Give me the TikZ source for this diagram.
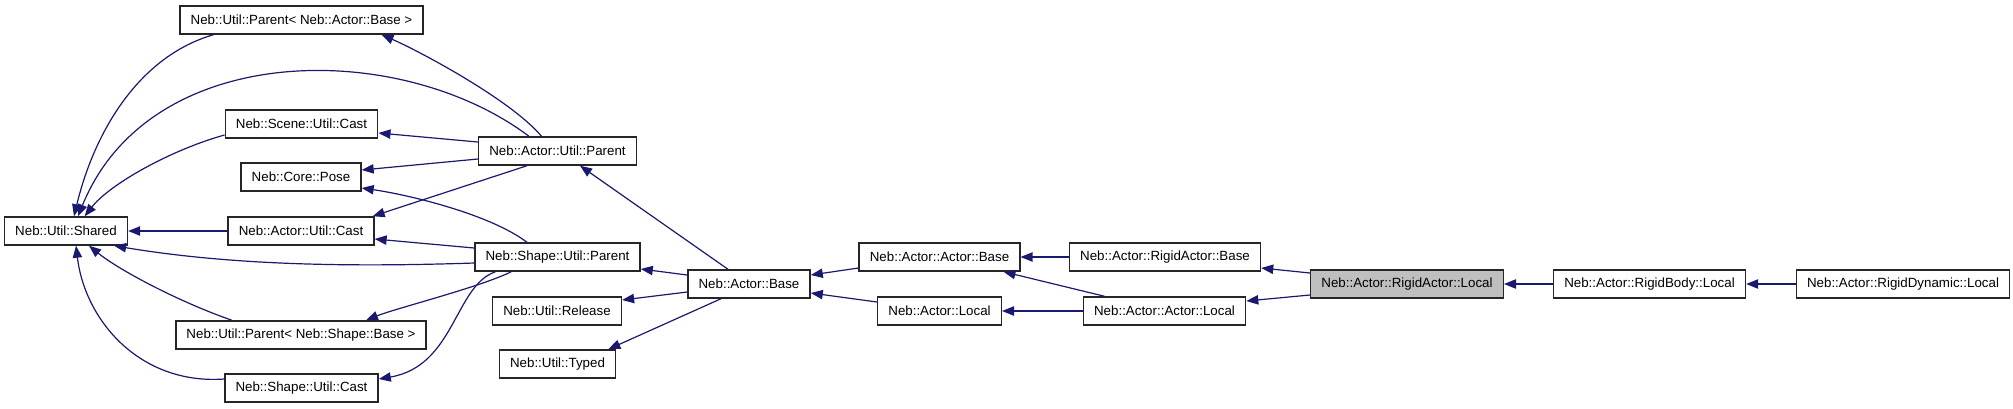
\documentclass[tikz,border=0pt]{standalone}
\usepackage{fontspec}
\setmainfont{Liberation Sans}
\usetikzlibrary{arrows.meta}
\definecolor{edgeblue}{HTML}{191970}
\definecolor{hilite}{HTML}{BFBFBF}

\begin{document}
\begin{tikzpicture}[x=0.75pt, y=-0.75pt,
    cls/.style={draw=black!85, line width=1.1pt, fill=white, minimum height=21pt, inner xsep=8pt, inner ysep=0pt, font=\fontsize{10}{12}\selectfont},
    edge/.style={edgeblue, line width=0.9pt, -{Triangle[length=9pt,width=7pt]}}]
    \useasboundingbox[fill=white] (0,0) rectangle (2013,408);

    % Draw the classes, column by column
    \node[cls] (shared) at (66,231) {Neb::Util::Shared};

    \node[cls] (pab) at (301.5,20) {Neb::Util::Parent< Neb::Actor::Base >};
    \node[cls] (scast) at (301.5,124) {Neb::Scene::Util::Cast};
    \node[cls] (pose) at (301,177) {Neb::Core::Pose};
    \node[cls] (acast) at (301,231) {Neb::Actor::Util::Cast};
    \node[cls] (psb) at (301,335) {Neb::Util::Parent< Neb::Shape::Base >};
    \node[cls] (shcast) at (301.5,388) {Neb::Shape::Util::Cast};

    \node[cls] (aup) at (557.5,151) {Neb::Actor::Util::Parent};
    \node[cls] (sup) at (557.5,257) {Neb::Shape::Util::Parent};
    \node[cls] (release) at (557,311) {Neb::Util::Release};
    \node[cls] (typed) at (557.5,364) {Neb::Util::Typed};

    \node[cls] (abase) at (749,284) {Neb::Actor::Base};
    \node[cls] (aabase) at (939.5,257) {Neb::Actor::Actor::Base};
    \node[cls] (alocal) at (939.5,311) {Neb::Actor::Local};
    \node[cls] (rabase) at (1165,257) {Neb::Actor::RigidActor::Base};
    \node[cls] (aalocal) at (1164.5,311) {Neb::Actor::Actor::Local};

    \node[cls, fill=hilite] (ralocal) at (1407,284) {Neb::Actor::RigidActor::Local};
    \node[cls] (rblocal) at (1649.5,284) {Neb::Actor::RigidBody::Local};
    \node[cls] (rdlocal) at (1903,284) {Neb::Actor::RigidDynamic::Local};

    % Straight inheritance edges
    \foreach \a/\b in {rdlocal/rblocal, rblocal/ralocal, rabase/aabase, aalocal/alocal, acast/shared} \draw[edge] (\a) -- (\b);

    % Right part
    \draw[edge] ([yshift=8.25pt]ralocal.west) -- ([yshift=-8.25pt]rabase.east);
    \draw[edge] ([yshift=-8.25pt]ralocal.west) -- ([yshift=7.5pt]aalocal.east);
    \draw[edge] ([xshift=-45pt]aalocal.north) -- ([xshift=48pt]aabase.south);
    \draw[edge] ([yshift=-8.25pt]aabase.west) -- ([yshift=6.75pt]abase.east);
    \draw[edge] ([yshift=6.75pt]alocal.west) -- ([yshift=-6.75pt]abase.east);

    % Neb::Actor::Base to its bases
    \draw[edge] ([xshift=-15.75pt]abase.north) -- ([xshift=16.9pt]aup.south);
    \draw[edge] ([yshift=6.75pt]abase.west) -- ([yshift=-9pt]sup.east);
    \draw[edge] ([yshift=-6pt]abase.west) -- ([yshift=8.25pt]release.east);
    \draw[edge] ([xshift=-21pt]abase.south) -- ([xshift=-6pt]typed.north east);

    % Neb::Actor::Util::Parent to its bases
    \draw[edge] ([xshift=-12pt]aup.north) .. controls +(-31,-37) and +(35,15) .. ([xshift=60pt]pab.south);
    \draw[edge] ([xshift=-21.4pt]aup.north) .. controls +(-129,-97) and +(72,-177) .. ([xshift=9pt]shared.north);
    \draw[edge] ([yshift=6.75pt]aup.west) -- ([yshift=-6.75pt]scast.east);
    \draw[edge] ([yshift=-6pt]aup.west) -- ([yshift=5.25pt]pose.east);
    \draw[edge] ([xshift=-22.9pt]aup.south) -- ([xshift=-1.5pt]acast.north east);

    % Neb::Shape::Util::Parent to its bases
    \draw[edge] ([xshift=-22.9pt]sup.north) .. controls +(-37,-28) and +(48,7) .. ([yshift=-8.25pt]pose.east);
    \draw[edge] ([yshift=6.75pt]sup.west) -- ([yshift=-6pt]acast.east);
    \draw[edge] ([yshift=-4.5pt]sup.west) .. controls +(-120,4) and +(120,20) .. ([xshift=-10.5pt]shared.south east);
    \draw[edge] ([xshift=-34.7pt]sup.south) .. controls +(-30,15) and +(30,-12) .. ([xshift=48.75pt]psb.north);
    \draw[edge] ([xshift=-46.5pt]sup.south) .. controls +(-41,14) and +(76,-13) .. ([yshift=6.75pt]shcast.east);

    % Everything ends in Neb::Util::Shared
    \draw[edge] ([xshift=-66pt]pab.south) .. controls +(-73,21) and +(21,-87) .. ([xshift=6pt]shared.north);
    \draw[edge] ([yshift=-8.25pt]scast.west) .. controls +(-54,15) and +(25,-32) .. ([xshift=14pt]shared.north);
    \draw[edge] ([xshift=-51.75pt]psb.north) .. controls +(-52,-18) and +(31,25) .. ([xshift=17.25pt]shared.south);
    \draw[edge] ([yshift=6.75pt]shcast.west) .. controls +(-84,6) and +(9,75) .. ([xshift=7.5pt]shared.south);
\end{tikzpicture}
\end{document}
